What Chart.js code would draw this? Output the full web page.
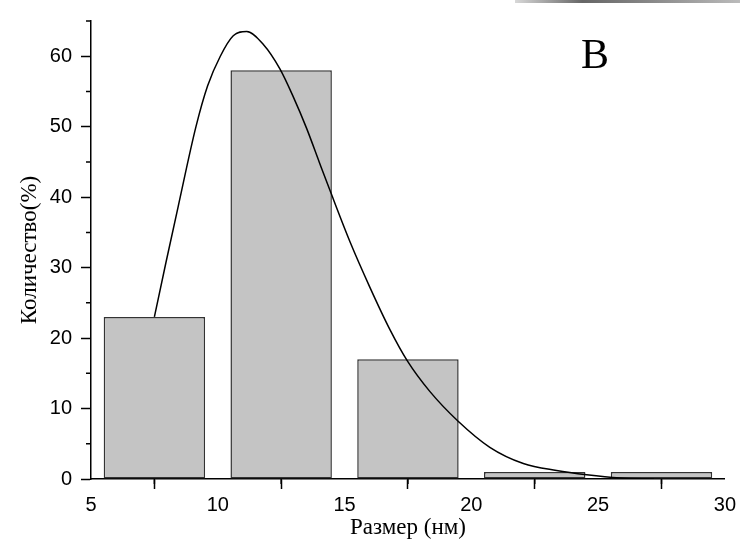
<!DOCTYPE html>
<html>
<head>
<meta charset="utf-8">
<script src="https://cdn.jsdelivr.net/npm/chart.js@4.4.1/dist/chart.umd.min.js"></script>
<style>
  body { margin: 0; background: #fff; }
  #wrap { width: 740px; height: 551px; }
</style>
</head>
<body>
<div id="wrap"><canvas id="chart" width="740" height="551"></canvas></div>
<script>
// Histogram bins (bin centres, nm) and counts (%)
const binCenters = [7.5, 12.5, 17.5, 22.5, 27.5];
const counts = [23, 58, 17, 1, 1];

// Fitted curve
const fitX = [7.5, 7.96, 8.44, 9.14, 9.6, 10.1, 10.61, 11.14, 11.79, 12.45, 12.97, 13.5, 14.0, 14.42, 15.21, 16.0, 16.79, 17.47, 18.37, 19.48, 20.73, 22.05, 23.36, 24.55, 25.86, 27.2];
const fitY = [23.0, 30.8, 38.7, 50.0, 55.8, 60.0, 62.9, 63.5, 61.7, 58.2, 54.3, 49.8, 45.0, 41.0, 33.7, 27.2, 21.2, 16.8, 12.4, 8.2, 4.5, 2.2, 1.2, 0.6, 0.15, 0.0];

const xMajor = [5, 10, 15, 20, 25, 30];
const xMinor = [7.5, 12.5, 17.5, 22.5, 27.5];
const yMajor = [0, 10, 20, 30, 40, 50, 60];
const yMinor = [5, 15, 25, 35, 45, 55, 65];

const ctx = document.getElementById("chart");

// minor ticks, panel letter and the grey strip at the top
const extras = {
  id: "extras",
  afterDraw: (chart) => {
    const c = chart.ctx;
    const xs = chart.scales.x;
    const ys = chart.scales.y;
    const area = chart.chartArea;
    c.save();
    c.strokeStyle = "#000";
    c.lineWidth = 1.5;
    c.beginPath();
    xMinor.forEach((v) => {
      const px = xs.getPixelForValue(v);
      c.moveTo(px, area.bottom);
      c.lineTo(px, area.bottom + 5);
    });
    yMinor.forEach((v) => {
      const py = ys.getPixelForValue(v);
      c.moveTo(area.left, py);
      c.lineTo(area.left - 5, py);
    });
    c.stroke();

    c.fillStyle = "#000";
    c.font = "42px 'Liberation Serif'";
    c.textAlign = "center";
    c.textBaseline = "middle";
    c.fillText("B", 595, 57);

    const g = c.createLinearGradient(515, 0, 740, 0);
    g.addColorStop(0, "#d8d8d8");
    g.addColorStop(0.3, "#666");
    g.addColorStop(0.6, "#888");
    g.addColorStop(1, "#bbb");
    c.fillStyle = g;
    c.fillRect(515, 0, 225, 3);
    c.restore();
  },
};

new Chart(ctx, {
  type: "bar",
  data: {
    datasets: [
      {
        type: "line",
        data: fitX.map((x, i) => ({ x: x, y: fitY[i] })),
        borderColor: "#000",
        borderWidth: 1.5,
        pointRadius: 0,
        cubicInterpolationMode: "monotone",
        fill: false,
        order: 0,
      },
      {
        type: "bar",
        data: binCenters.map((x, i) => ({ x: x, y: counts[i] })),
        backgroundColor: "#c4c4c4",
        borderColor: "#333",
        borderWidth: 1.5,
        borderSkipped: false,
        barPercentage: 0.8,
        categoryPercentage: 1,
        order: 1,
      },
    ],
  },
  options: {
    responsive: false,
    animation: false,
    layout: { padding: { top: 11, right: 15, left: 0, bottom: 0 } },
    plugins: { legend: false, tooltip: false },
    scales: {
      x: {
        type: "linear",
        min: 5,
        max: 30,
        offset: false,
        afterBuildTicks: (s) => { s.ticks = xMajor.map((v) => ({ value: v })); },
        afterFit: (s) => { s.height = 72; },
        grid: { drawOnChartArea: false, tickLength: 10, tickColor: "#000", tickWidth: 1.5 },
        border: { color: "#000", width: 1.5 },
        ticks: { color: "#000", padding: 4, maxRotation: 0, font: { family: "'Liberation Sans'", size: 20 } },
        title: {
          display: true,
          text: "Размер (нм)",
          color: "#000",
          padding: { top: 0, bottom: 9 },
          font: { family: "'Liberation Serif'", size: 23 },
        },
      },
      y: {
        min: 0,
        max: 65,
        afterBuildTicks: (s) => { s.ticks = yMajor.map((v) => ({ value: v })); },
        afterFit: (s) => { s.width = 91; },
        grid: { drawOnChartArea: false, tickLength: 10, tickColor: "#000", tickWidth: 1.5 },
        border: { color: "#000", width: 1.5 },
        ticks: { color: "#000", padding: 9, font: { family: "'Liberation Sans'", size: 20 } },
        title: {
          display: true,
          text: "Количество(%)",
          color: "#000",
          padding: { top: 16, bottom: 0 },
          font: { family: "'Liberation Serif'", size: 23 },
        },
      },
    },
  },
  plugins: [extras],
});
</script>
</body>
</html>
